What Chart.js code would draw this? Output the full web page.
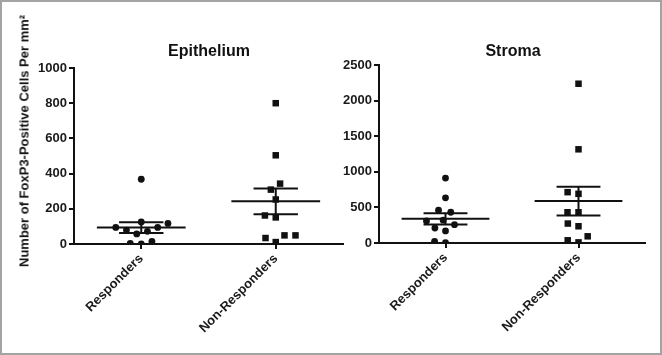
<!DOCTYPE html>
<html><head><meta charset="utf-8">
<script src="https://cdn.jsdelivr.net/npm/chart.js@4"></script>
<style>
html,body{margin:0;padding:0;background:#fff;}
#frame{position:absolute;left:0;top:0;width:662px;height:355px;box-sizing:border-box;border:2px solid #a3a3a3;background:#fff;}
canvas{position:absolute;top:0;}
#c1{left:0;}
#c2{left:336px;}
.ttl{position:absolute;font:bold 16px "Liberation Sans",Arial,sans-serif;color:#111;transform:translateX(-50%);white-space:nowrap;line-height:18px;}
#ytitle{position:absolute;left:24px;top:141px;font:bold 13px "Liberation Sans",Arial,sans-serif;color:#111;transform:translate(-50%,-50%) rotate(-90deg);white-space:nowrap;}
</style></head>
<body>
<div id="frame"></div>
<canvas id="c1" width="350" height="355"></canvas>
<canvas id="c2" width="326" height="355"></canvas>
<div class="ttl" id="t1" style="left:209px;top:42px;">Epithelium</div>
<div class="ttl" id="t2" style="left:513px;top:42px;">Stroma</div>
<div id="ytitle">Number of FoxP3-Positive Cells Per mm²</div>
<script>
const categories = ['Responders', 'Non-Responders'];
const epiResponders = [368, 125, 117, 94, 94, 79, 72, 57, 15, 0, 4];
const epiNonResponders = [800, 504, 343, 309, 253, 162, 151, 49, 49, 34, 11];
const stromaResponders = [912, 634, 460, 432, 310, 320, 258, 211, 169, 5, 23];
const stromaNonResponders = [2237, 1316, 714, 691, 432, 432, 273, 235, 94, 9, 38];
const epiTicks = [0, 200, 400, 600, 800, 1000];
const stromaTicks = [0, 500, 1000, 1500, 2000, 2500];
const panelTitles = ['Epithelium', 'Stroma'];

const FONT = '"Liberation Sans", Arial, sans-serif';
const INK = '#111';

function stats(vals) {
  const n = vals.length;
  const m = vals.reduce((a, b) => a + b, 0) / n;
  const sd = Math.sqrt(vals.reduce((a, b) => a + (b - m) * (b - m), 0) / (n - 1));
  return { m, sem: sd / Math.sqrt(n) };
}

function makeChart(canvas, groups, ticks, geo) {
  const datasets = [];
  const lineDs = (data) => ({ data, showLine: true, borderColor: INK, borderWidth: 2, pointRadius: 0, fill: false });
  groups.forEach((vals, gi) => {
    const { m, sem } = stats(vals);
    datasets.push(lineDs([{ x: gi - 0.33, y: m }, { x: gi + 0.33, y: m }]));
    datasets.push(lineDs([{ x: gi - 0.165, y: m + sem }, { x: gi + 0.165, y: m + sem }]));
    datasets.push(lineDs([{ x: gi - 0.165, y: m - sem }, { x: gi + 0.165, y: m - sem }]));
    datasets.push(lineDs([{ x: gi, y: m - sem }, { x: gi, y: m + sem }]));
  });
  const pointIdx = [];
  groups.forEach((vals, gi) => {
    pointIdx.push(datasets.length);
    datasets.push({
      data: vals.map(v => ({ x: gi, y: v })),
      pointStyle: gi === 0 ? 'circle' : 'rect',
      pointRadius: gi === 0 ? 3.4 : 4.6,
      backgroundColor: INK, borderColor: INK, borderWidth: 0, showLine: false
    });
  });
  const tickFont = { family: FONT, weight: 'bold', size: 13 };
  const chart = new Chart(canvas, {
    type: 'scatter',
    data: { datasets },
    options: {
      responsive: false, animation: false,
      layout: { padding: { left: 0, right: geo.padRight, top: geo.top, bottom: 0 } },
      plugins: { legend: { display: false }, tooltip: { enabled: false }, title: { display: false } },
      scales: {
        x: {
          type: 'linear', min: -0.5, max: 1.5,
          afterBuildTicks: s => { s.ticks = categories.map((_, i) => ({ value: i })); },
          afterFit: s => { s.height = geo.xH; },
          ticks: { callback: v => categories[v], autoSkip: false, minRotation: 45, maxRotation: 45, font: tickFont, color: '#1a1a1a', padding: 2 },
          grid: { drawOnChartArea: false, drawTicks: true, tickLength: 5, color: INK, lineWidth: 2 },
          border: { color: INK, width: 2 }
        },
        y: {
          min: 0, max: ticks[ticks.length - 1],
          afterBuildTicks: s => { s.ticks = ticks.map(v => ({ value: v })); },
          afterFit: s => { s.width = geo.yW; },
          ticks: { callback: v => String(v), font: tickFont, color: '#1a1a1a', padding: 2 },
          grid: { drawOnChartArea: false, drawTicks: true, tickLength: 5, color: INK, lineWidth: 2 },
          border: { color: INK, width: 2 }
        }
      }
    }
  });
  // beeswarm placement of points computed from values via the chart's scales
  const xs = chart.scales.x, ys = chart.scales.y;
  const unit = xs.getPixelForValue(1) - xs.getPixelForValue(0);
  const d = 11;
  groups.forEach((vals, gi) => {
    const placed = [];
    const offs = new Array(vals.length);
    const order = vals.map((v, i) => i).sort((a, b) => vals[a] - vals[b]);
    order.forEach(i => {
      const py = ys.getPixelForValue(vals[i]);
      const cands = [0];
      placed.forEach(p => {
        const dy = Math.abs(p.py - py);
        if (dy < d) { const dx = Math.sqrt(d * d - dy * dy); cands.push(p.ox + dx, p.ox - dx); }
      });
      cands.sort((a, b) => Math.abs(a) - Math.abs(b) || a - b);
      const ox = cands.find(c => placed.every(p => Math.hypot(p.ox - c, p.py - py) >= d - 1e-6));
      placed.push({ py, ox });
      offs[i] = ox;
    });
    chart.data.datasets[pointIdx[gi]].data = vals.map((v, i) => ({ x: gi + offs[i] / unit, y: v }));
  });
  chart.update('none');
  return chart;
}

makeChart(document.getElementById('c1'), [epiResponders, epiNonResponders], epiTicks,
  { padRight: 7, top: 68, xH: 111, yW: 74 });
makeChart(document.getElementById('c2'), [stromaResponders, stromaNonResponders], stromaTicks,
  { padRight: 17, top: 65, xH: 112, yW: 43 });
</script>
</body></html>
